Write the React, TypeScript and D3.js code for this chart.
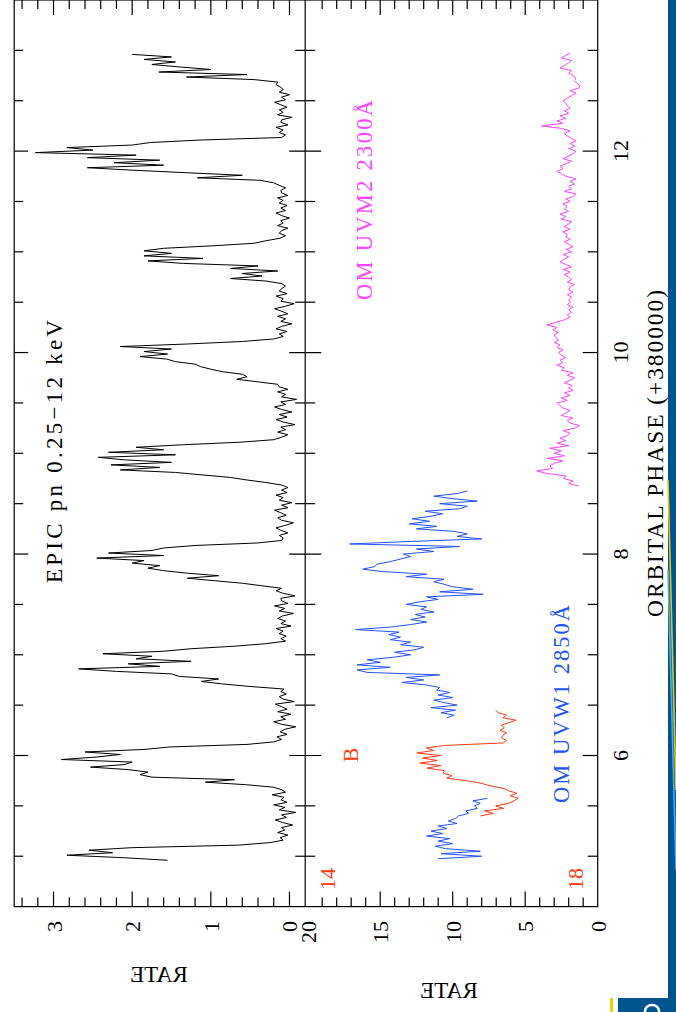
import React from 'react';
import * as d3 from 'd3';

const W = 676;
const H = 1012;
const FONT = "'Liberation Serif', 'DejaVu Serif', serif";

// time bins (orbital phase) are regular, 0.025 wide
const PHASE_STEP = 0.025;

// EPIC pn 0.25-12 keV count rate, first bin at phase 4.96
const EPIC_START = 4.96;
const EPIC_RATE = [
  1.55, 2.1, 2.83, 2.25, 2.55, 2.0, 0.65, 0.25,
  0.08, 0.12, 0.02, 0.15, 0.06, 0.1, -0.04, 0.09, 0.18, 0.04, 0.1, -0.08, 0.13, 0.06, 0.2, 0.03, 0.11, 0.07, 0.22, 0.05, 0.1,
  0.2, 0.55, 1.07, 0.7, 1.75, 1.9, 1.8, 2.05, 2.53, 2.1, 2.0, 2.9, 2.45, 2.15, 2.6, 1.85, 1.52, 0.54, 0.2,
  0.1, 0.16, 0.03, 0.12, 0.06, -0.08, 0.1, 0.2, 0.05, 0.11, -0.02, 0.15, 0.03, 0.1, 0.18, -0.06, 0.08, 0.13, 0.04, 0.11, 0.07,
  0.5, 0.85, 1.12, 0.9, 1.4, 1.5, 2.2, 2.68, 1.65, 2.05, 1.25, 1.95, 1.75, 2.37, 1.6, 1.25, 0.7, 0.3, 0.05,
  0.11, 0.04, 0.13, 0.08, 0.17, -0.02, 0.11, 0.05, 0.15, 0.09, -0.05, 0.13, 0.06, 0.19, 0.02, 0.1, 0.11, -0.07, 0.08, 0.17, 0.1,
  0.35, 0.6, 0.95, 1.3, 0.9, 1.3, 1.6, 1.8, 1.65, 2.0, 1.85, 2.45, 1.6, 2.3, 1.75, 1.6, 1.2, 0.4, 0.1,
  0.08, 0.13, 0.02, 0.11, 0.17, 0.05, -0.05, 0.1, 0.15, 0.04, 0.11, 0.19, 0.02, 0.1, -0.03, 0.13, 0.08, 0.17, 0.03, 0.1, 0.02,
  0.1, 0.3, 0.54, 0.75, 1.1, 1.45, 2.15, 1.65, 2.27, 1.5, 2.1, 2.43, 1.45, 2.3, 1.6, 1.95, 1.35, 0.63, 0.2,
  0.1, 0.02, 0.15, 0.05, 0.11, -0.07, 0.08, 0.17, 0.03, 0.13, -0.03, 0.1, 0.19, 0.05, 0.11, -0.09, 0.1, 0.05, 0.15, 0.02, 0.13,
  0.15, 0.41, 0.67, 0.54, 0.6, 0.85, 1.0, 1.13, 1.2, 1.45, 1.56, 1.9, 1.55, 1.85, 1.5, 2.15, 1.3, 0.6, 0.2,
  0.08, 0.13, 0.03, 0.17, 0.1, -0.03, 0.11, 0.05, 0.15, 0.02, 0.1, 0.19, 0.05, -0.06, 0.11, 0.08, 0.17, 0.03, 0.13, 0.1, 0.05,
  0.1, 0.3, 0.75, 0.35, 0.6, 0.15, 0.75, 0.4, 1.35, 1.8, 1.1, 1.85, 1.5, 1.85, 1.6, 0.97, 0.45, 0.3, 0.12,
  0.05, 0.13, 0.1, 0.02, 0.15, 0.08, 0.11, 0.0, 0.1, 0.17, 0.05, 0.11, 0.03, 0.13, 0.08, 0.15, 0.02, 0.1, 0.11, 0.05, 0.13,
  0.2, 0.37, 1.17, 0.6, 1.3, 1.98, 2.57, 1.6, 2.23, 1.65, 2.57, 1.95, 3.23, 2.5, 2.83, 2.0, 1.77, 1.13, 0.1,
  0.05, 0.13, 0.08, 0.17, 0.02, 0.11, 0.1, -0.03, 0.15, 0.08, 0.13, 0.03, 0.11, 0.19, 0.05, 0.1, 0.0, 0.13, 0.08, 0.11, 0.17,
  0.15, 0.45, 1.31, 0.54, 1.66, 1.0, 1.39, 1.75, 1.45, 1.85, 1.5, 2.0,
];

// OM UVW1 2850A rate, first stretch
const UVW1_A_START = 4.975;
const UVW1_A = [
  11.0, 8.0, 10.8, 8.1, 10.5, 11.2, 10.0, 11.0, 10.2, 11.8,
  10.7, 11.5, 10.4, 11.0, 9.7, 10.3, 9.8, 9.6, 8.9, 9.1,
  8.3, 8.5, 8.1, 8.6, 7.6,
];

// OM UVW1 2850A rate, second stretch
const UVW1_B_START = 6.375;
const UVW1_B = [
  10.4, 9.9, 10.8, 9.8, 11.5, 9.7, 10.6, 11.3, 10.0, 11.0,
  10.2, 11.1, 10.9, 11.8, 13.5, 12.0, 13.2, 10.9, 15.9, 16.6,
  14.3, 16.6, 15.0, 15.9, 14.1, 12.9, 14.0, 12.6, 12.0, 13.6,
  12.9, 14.3, 13.6, 14.4, 13.7, 16.7, 14.3, 12.9, 11.8, 12.9,
  11.9, 12.6, 11.3, 12.2, 11.8, 13.2, 12.3, 11.0, 11.8, 7.9,
  10.9, 8.6, 10.0, 10.6, 11.3, 10.6, 13.2, 11.8, 14.8, 16.2,
  15.4, 15.2, 14.3, 13.6, 12.9, 13.4, 11.3, 12.5, 9.5, 17.1,
  12.9, 8.0, 9.7, 9.0, 9.9, 12.5, 11.1, 13.0, 11.6, 12.8,
  11.5, 10.7, 11.9, 9.5, 9.0, 10.9, 8.3, 10.0, 11.3, 9.7,
  9.0,
];

// B magnitude (red)
const BMAG_START = 5.4;
const BMAG = [
  16.39, 16.57, 16.45, 16.71, 16.6, 16.78, 16.85, 16.91, 16.8, 16.89,
  16.78, 16.7, 16.52, 16.4, 16.2, 15.93, 16.0, 15.88, 15.9, 15.66,
  15.85, 15.56, 15.8, 15.6, 15.85, 15.52, 15.75, 15.65, 15.9, 16.71,
  16.75, 16.68, 16.7, 16.75, 16.66, 16.72, 16.68, 16.78, 16.88, 16.7,
  16.75, 16.64, 16.6,
];

// OM UVM2 2300A rate
const UVM2_START = 8.675;
const UVM2 = [
  1.3, 2.0, 1.7, 2.35, 2.2, 3.5, 4.2, 3.1, 3.3, 3.0, 2.4, 3.5,
  2.3, 3.0, 2.5, 3.3, 2.0, 2.8, 2.2, 2.6, 2.1, 1.9, 2.4, 1.6,
  1.25, 1.9, 2.1, 1.7, 2.5, 2.2, 1.9, 2.4, 2.6, 2.8, 2.1, 2.5,
  1.9, 2.3, 1.7, 2.0, 1.8, 2.3, 1.9, 1.6, 2.1, 1.7, 2.5, 2.3,
  2.8, 2.4, 2.6, 2.2, 2.5, 2.7, 2.4, 2.8, 2.6, 3.0, 2.7, 2.9,
  3.0, 2.7, 3.1, 2.8, 3.5, 2.9, 2.3, 1.9, 2.1, 1.8, 2.0, 1.7,
  2.1, 1.9, 2.0, 1.8, 2.1, 1.7, 2.0, 1.9, 1.6, 2.1, 1.8, 2.0,
  2.3, 1.9, 2.4, 1.8, 2.2, 2.6, 2.3, 2.0, 2.4, 1.8, 2.2, 1.7,
  2.0, 2.3, 1.9, 2.2, 2.1, 2.4, 1.9, 2.3, 2.0, 1.8, 2.5, 2.2,
  2.6, 2.0, 2.3, 2.1, 2.4, 1.9, 2.2, 1.7, 1.5, 2.3, 1.8, 2.0,
  1.6, 1.9, 1.5, 2.2, 2.5, 2.8, 2.4, 2.6, 2.2, 1.8, 2.4, 2.0,
  1.7, 1.5, 2.0, 1.6, 1.9, 1.5, 1.8, 2.1, 2.3, 1.9, 2.5, 3.87,
  2.4, 2.8, 2.2, 2.6, 2.0, 2.3, 1.9, 2.1, 2.2, 2.4, 2.1, 1.8,
  1.5, 1.9, 1.3, 1.22, 1.45, 1.6, 1.5, 1.7, 2.0, 1.8, 2.6, 2.3,
  2.0, 1.8, 2.5, 2.2, 1.9,
];

const PHASE_LABELS = [6, 8, 10, 12];
const EPIC_LABELS = [0, 1, 2, 3];
const OM_LABELS = [0, 5, 10, 15, 20];
const BMAG_LABELS = [14, 18];

const BLUE = '#2452ff';
const RED = '#ff3a12';
const MAGENTA = '#ff45ff';
const SLIDE_BLUE = '#00558f';

function RText(props: {
  x: number; y: number; children: React.ReactNode; size?: number; fill?: string;
  anchor?: 'start' | 'middle' | 'end'; len?: number;
}) {
  const { x, y, children, size = 22, fill = '#000', anchor = 'middle', len } = props;
  return (
    <text
      transform={`translate(${x},${y}) rotate(-90)`}
      textAnchor={anchor}
      fontSize={size}
      fill={fill}
      fontFamily={FONT}
      textLength={len}
      lengthAdjust={len ? 'spacing' : undefined}
    >
      {children}
    </text>
  );
}

export default function App() {
  const yP = d3.scaleLinear().domain([4.5, 13.5]).range([906.6, 0]);
  const xE = d3.scaleLinear().domain([-0.2, 3.5]).range([305.2, 14.2]);
  const xO = d3.scaleLinear().domain([0, 20]).range([597.7, 307.7]);
  const xB = d3.scaleLinear().domain([14, 18]).range([306, 597.7]);

  const left = xE(3.5);
  const mid = xE(-0.2);
  const right = xO(0);
  const top = yP(13.5);
  const bottom = yP(4.5);

  const mkLine = (start: number, xs: (v: number) => number) =>
    d3
      .line<number>()
      .x((d) => xs(d))
      .y((_d, i) => yP(start + i * PHASE_STEP))
      .curve(d3.curveLinear);

  const epicPath = mkLine(EPIC_START, xE)(EPIC_RATE) || '';
  const uvw1a = mkLine(UVW1_A_START, xO)(UVW1_A) || '';
  const uvw1b = mkLine(UVW1_B_START, xO)(UVW1_B) || '';
  const bPath = mkLine(BMAG_START, xB)(BMAG) || '';
  const uvm2 = mkLine(UVM2_START, xO)(UVM2) || '';

  const phaseTicks = d3.range(10, 27).map((i) => i * 0.5);
  const epicTicks = d3.range(0, 18).map((i) => ({ v: i * 0.2, major: i % 5 === 0 }));
  const omTicks = d3.range(1, 20).map((i) => ({ v: i, major: i % 5 === 0 }));

  const isMajorPhase = (p: number) => Math.abs(p - Math.round(p)) < 1e-6 && Math.round(p) % 2 === 0;

  const sw = 1.2;

  return (
    <svg
      width={W}
      height={H}
      viewBox={`0 0 ${W} ${H}`}
      style={{ position: 'absolute', left: 0, top: 0, display: 'block', background: '#fff' }}
    >
      <rect x={0} y={0} width={W} height={H} fill="#fff" />

      {/* slide decoration */}
      <rect x={668} y={0} width={8} height={998} fill={SLIDE_BLUE} />
      <path d="M668,480 L676,790" stroke="#f2c200" strokeWidth={1.6} fill="none" />
      <path d="M668,570 L676,870" stroke="#45aef0" strokeWidth={1.6} fill="none" />
      <rect x={618} y={998} width={58} height={14} fill={SLIDE_BLUE} />
      <rect x={610} y={998} width={3} height={14} fill="#f2d000" />
      <ellipse cx={652} cy={1011} rx={7} ry={6} fill="none" stroke="#fff" strokeWidth={2.5} />

      {/* frame */}
      <g stroke="#000" strokeWidth={sw} fill="none">
        <rect x={left} y={top} width={right - left} height={bottom - top} />
        <line x1={mid} x2={mid} y1={top} y2={bottom} />
      </g>

      {/* ticks */}
      <g stroke="#000" strokeWidth={sw}>
        {phaseTicks.map((p) => {
          const y = yP(p);
          const mj = isMajorPhase(p);
          return (
            <g key={`pt${p}`}>
              <line x1={left} x2={left + (mj ? 14 : 9)} y1={y} y2={y} />
              <line x1={mid - (mj ? 16 : 10)} x2={mid + (mj ? 16 : 10)} y1={y} y2={y} />
              <line x1={right - (mj ? 15 : 10)} x2={right} y1={y} y2={y} />
            </g>
          );
        })}
        {epicTicks.map((t) => {
          const x = xE(t.v);
          const l = t.major ? 15 : 9;
          return (
            <g key={`et${t.v}`}>
              <line x1={x} x2={x} y1={top} y2={top + l} />
              <line x1={x} x2={x} y1={bottom} y2={bottom - l} />
            </g>
          );
        })}
        {omTicks.map((t) => {
          const x = xO(t.v);
          const l = t.major ? 15 : 9;
          return (
            <g key={`ot${t.v}`}>
              <line x1={x} x2={x} y1={top} y2={top + l} />
              <line x1={x} x2={x} y1={bottom} y2={bottom - l} />
            </g>
          );
        })}
      </g>

      {/* curves */}
      <path d={epicPath} fill="none" stroke="#000" strokeWidth={1} strokeLinejoin="round" />
      <path d={uvw1a} fill="none" stroke={BLUE} strokeWidth={1} />
      <path d={uvw1b} fill="none" stroke={BLUE} strokeWidth={1} />
      <path d={bPath} fill="none" stroke={RED} strokeWidth={1} />
      <path d={uvm2} fill="none" stroke={MAGENTA} strokeWidth={1} />

      {/* tick labels */}
      {PHASE_LABELS.map((p) => (
        <RText key={`pl${p}`} x={628} y={yP(p)}>{String(p)}</RText>
      ))}
      {EPIC_LABELS.map((v) => (
        <RText key={`el${v}`} x={xE(v) + 8} y={921} anchor="end">{String(v)}</RText>
      ))}
      {OM_LABELS.map((v) => (
        <RText key={`ol${v}`} x={xO(v) + 8} y={921} anchor="end">{String(v)}</RText>
      ))}
      {BMAG_LABELS.map((v, i) => (
        <RText key={`bl${v}`} x={i === 0 ? 335 : 583} y={879} fill={RED}>{String(v)}</RText>
      ))}

      {/* titles */}
      <RText x={663} y={453.5} size={23.5} len={327}>ORBITAL PHASE (+380000)</RText>
      <RText x={61.7} y={451.5} size={23} len={263}>EPIC pn 0.25−12 keV</RText>
      <RText x={569} y={704} size={22.5} fill={BLUE} len={198}>OM UVW1 2850Å</RText>
      <RText x={371.7} y={200} size={22.5} fill={MAGENTA} len={200}>OM UVM2 2300Å</RText>
      <RText x={358} y={755} size={22} fill={RED}>B</RText>

      {/* mirrored axis labels */}
      <text transform="translate(159,981.7) scale(-1,1)" textAnchor="middle" fontSize={23} fontFamily={FONT} fill="#000">RATE</text>
      <text transform="translate(449,998) scale(-1,1)" textAnchor="middle" fontSize={23} fontFamily={FONT} fill="#000">RATE</text>
    </svg>
  );
}
